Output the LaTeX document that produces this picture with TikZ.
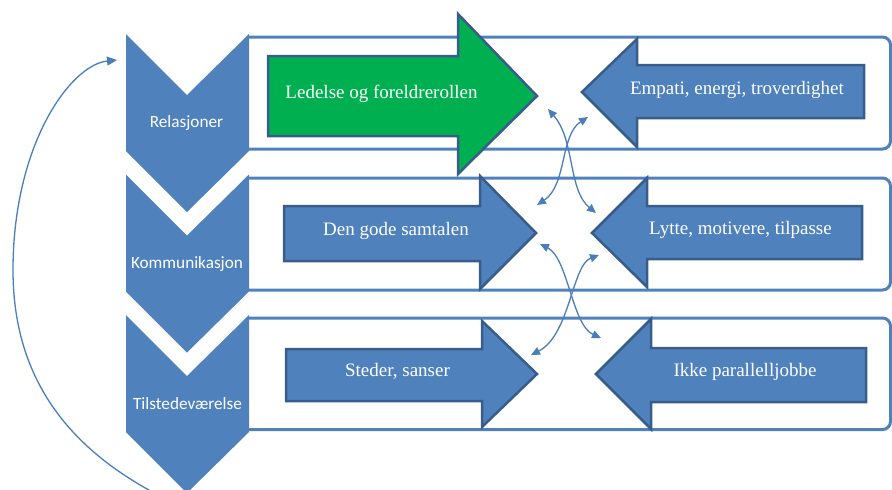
\documentclass[tikz,border=0pt]{standalone}
\usepackage{fontspec}
\setmainfont{Liberation Serif}
\newfontfamily\chevfont{Carlito}
\usetikzlibrary{arrows.meta}
\definecolor{obl}{HTML}{4F81BD}
\definecolor{odk}{HTML}{385D8A}
\definecolor{ogr}{HTML}{00B050}
\definecolor{oln}{HTML}{4A7EBB}
\begin{document}
\begin{tikzpicture}[x=1pt,y=-1pt,
  container/.style={draw=obl, line width=3pt, rounded corners=8pt},
  chevron/.style={fill=obl},
  blockarrow/.style={fill=obl, draw=odk, line width=2.5pt, line join=miter},
  greenarrow/.style={blockarrow, fill=ogr},
  chevtext/.style={text=white, font=\chevfont\fontsize{17.2}{20}\selectfont, anchor=base, inner sep=0pt},
  arrtext/.style={text=white, font=\fontsize{19}{22}\selectfont, anchor=base, inner sep=0pt},
  crosslink/.style={draw=oln, line width=1.3pt, {Triangle[length=9pt,width=8pt]}-{Triangle[length=9pt,width=8pt]}},
  cyclearrow/.style={draw=oln, line width=1.3pt, -{Triangle[length=10pt,width=9pt]}}
]
\useasboundingbox (0,0) rectangle (892,490);
\clip (0,0) rectangle (892,490);

% containers (left side meets the chevrons)
\begin{scope}
\clip (249,0) rectangle (892,490);
\draw[container] (235,37) rectangle (890.5,149);
\draw[container] (235,178) rectangle (890.5,290);
\draw[container] (235,318) rectangle (890.5,429.5);
\end{scope}

% chevrons
\fill[chevron] (126,34) -- (187,95) -- (249,34) -- (249,151) -- (187,212) -- (126,151) -- cycle;
\fill[chevron] (126,174.5) -- (187,235.5) -- (249,174.5) -- (249,291.5) -- (187,352.5) -- (126,291.5) -- cycle;
\fill[chevron] (126,315) -- (187,376) -- (249,315) -- (249,432) -- (187,493) -- (126,432) -- cycle;

% block arrows
\draw[greenarrow] (268,56) -- (458,56) -- (458,14) -- (537,96) -- (458,174) -- (458,136) -- (268,136) -- cycle;
\draw[blockarrow] (864,65) -- (637,65) -- (637,39) -- (582,92) -- (637,147) -- (637,118) -- (864,118) -- cycle;
\draw[blockarrow] (284,206) -- (480,206) -- (480,176) -- (536,233) -- (480,289) -- (480,261) -- (284,261) -- cycle;
\draw[blockarrow] (862,206) -- (647,206) -- (647,178) -- (592,233) -- (647,287) -- (647,259) -- (862,259) -- cycle;
\draw[blockarrow] (286,349) -- (482,349) -- (482,321) -- (537,374) -- (482,427) -- (482,401) -- (286,401) -- cycle;
\draw[blockarrow] (866,348) -- (651,348) -- (651,319) -- (596,374) -- (651,429) -- (651,402) -- (866,402) -- cycle;

% texts
\node[chevtext] (t1) at (186.5,127.5) {Relasjoner};
\node[chevtext] (t2) at (187,268) {Kommunikasjon};
\node[chevtext] (t3) at (187.5,409) {Tilstedeværelse};
\node[arrtext] (g1) at (381.5,98.3) {Ledelse og foreldrerollen};
\node[arrtext] (e1) at (737,94) {Empati, energi, troverdighet};
\node[arrtext] (d1) at (396,235) {Den gode samtalen};
\node[arrtext] (l1) at (740.5,234) {Lytte, motivere, tilpasse};
\node[arrtext] (s1) at (397.5,376) {Steder, sanser};
\node[arrtext] (i1) at (745,376) {Ikke parallelljobbe};

% crossing links
\coordinate (a1) at (548,109);
\coordinate (a2) at (596,213);
\coordinate (b1) at (588,117);
\coordinate (b2) at (537,205);
\coordinate (c1) at (540,244);
\coordinate (c2) at (601,338);
\coordinate (d1) at (599,255);
\coordinate (d2) at (531,355);
\draw[crosslink] (a1) .. controls (575,140) and (568,190) .. (a2);
\draw[crosslink] (b1) .. controls (560,135) and (567,185) .. (b2);
\draw[crosslink] (c1) .. controls (568,258) and (572,325) .. (c2);
\draw[crosslink] (d1) .. controls (572,265) and (570,335) .. (d2);

% cycle arrow
\coordinate (lp0) at (162,497);
\coordinate (lp1) at (117,60);
\draw[cyclearrow] (lp0) .. controls (60,445) and (13,370) .. (13,270) .. controls (13,145) and (70,65) .. (lp1);
\end{tikzpicture}
\end{document}
